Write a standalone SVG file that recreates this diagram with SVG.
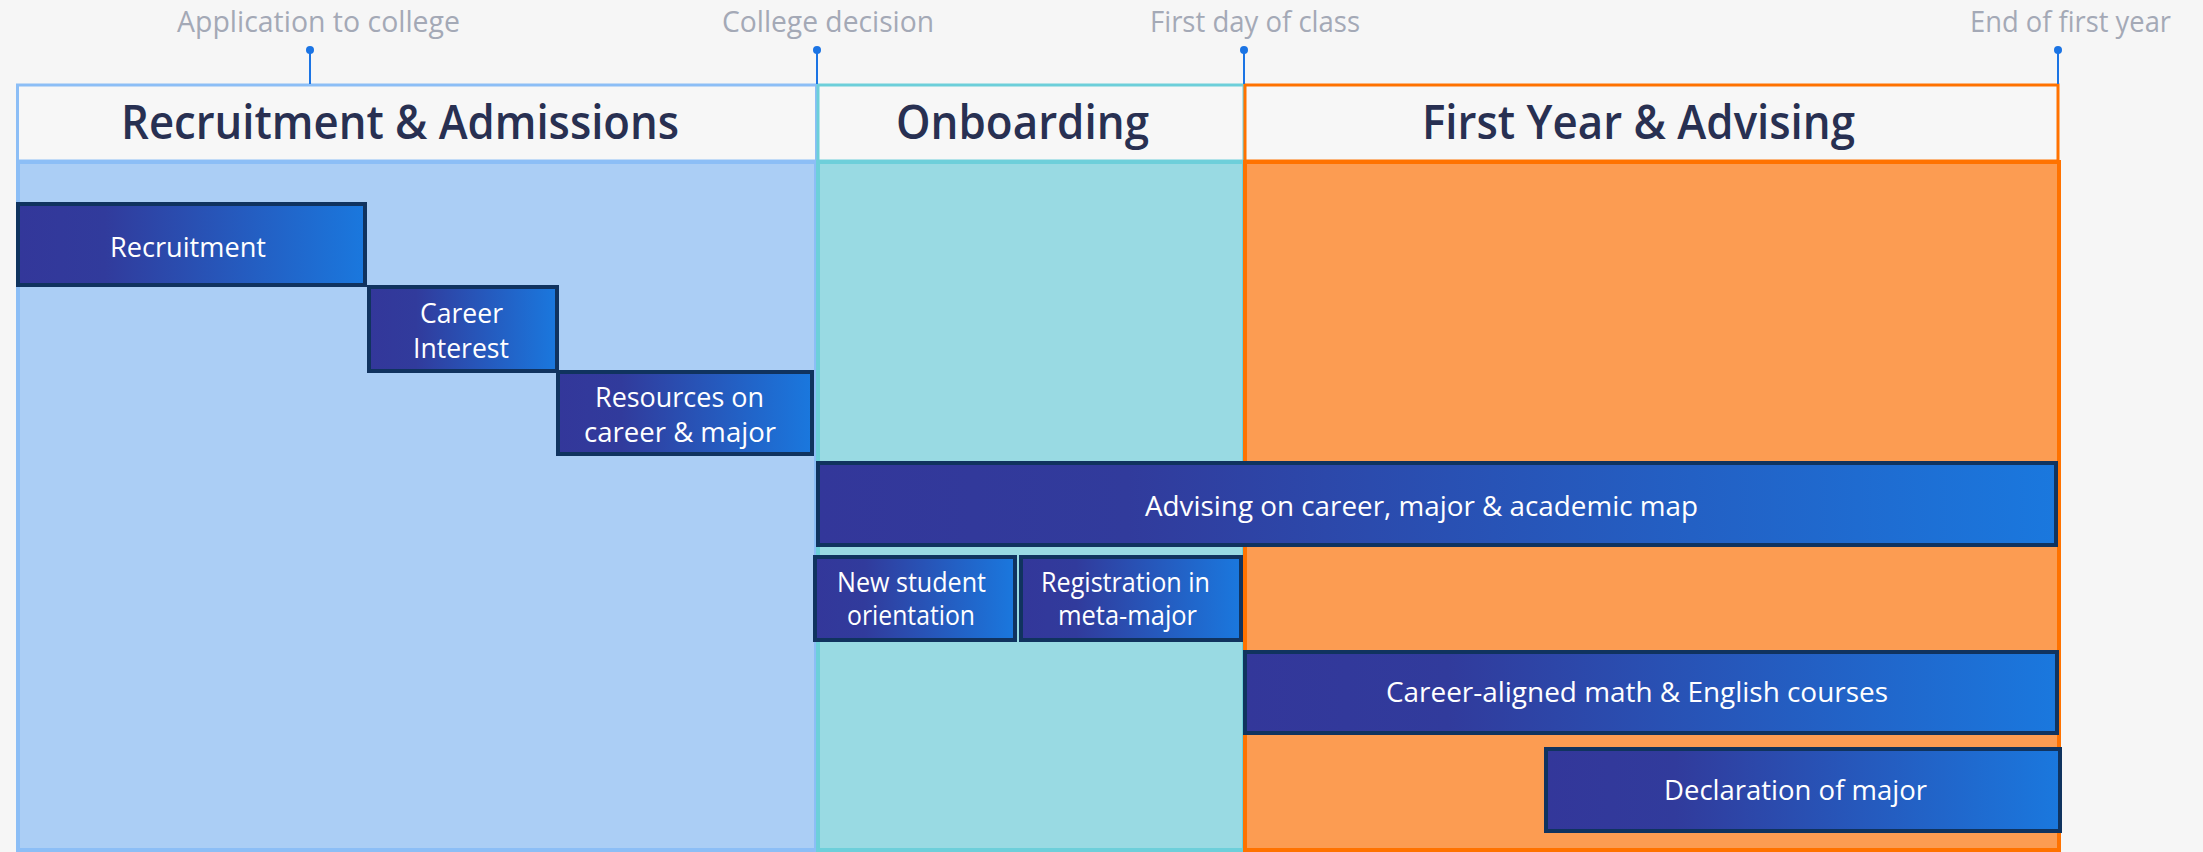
<svg xmlns="http://www.w3.org/2000/svg" width="2203" height="852" viewBox="0 0 2203 852">
  <defs>
    <!-- horizontal indigo-to-blue fill shared by every activity bar -->
    <linearGradient id="barFill" x1="0" y1="0" x2="1" y2="0">
      <stop offset="0" stop-color="#33379a"/>
      <stop offset="0.25" stop-color="#313b9c"/>
      <stop offset="1" stop-color="#1a78de"/>
    </linearGradient>
    <style>
      .bg { fill: #f6f6f6; }
      .milestone-label { font-family: "Open Sans", "Noto Sans", sans-serif; font-size: 29px; fill: #a4a9b6; }
      .tick { stroke: #1b74e4; stroke-width: 2; }
      .dot { fill: #1b74e4; }
      .phase-head { fill: #f7f7f7; stroke-width: 3; }
      .phase-body { stroke-width: 4; }
      .phase-title { font-family: "Open Sans", "Noto Sans", sans-serif; font-size: 47px; font-weight: 600; fill: #283052; }
      .blue { stroke: #8cbef6; }
      .blue.phase-body { fill: #abcef5; }
      .teal { stroke: #6dcfda; }
      .teal.phase-body { fill: #99dae3; }
      .orange { stroke: #ff7200; }
      .orange.phase-body { fill: #fc9c52; }
      .bar rect { fill: url(#barFill); stroke: #10335f; stroke-width: 4; }
      .bar text { font-family: "Open Sans", "Noto Sans", sans-serif; font-size: 27px; fill: #ffffff; }
      .bar text.tight { font-size: 26.5px; }
    </style>
  </defs>

  <rect class="bg" x="0" y="0" width="2203" height="852"/>

  <!-- phase columns: header strip + shaded body -->
  <g id="phase-recruitment">
    <rect class="phase-head blue" x="17.5" y="85" width="799" height="76"/>
    <rect class="phase-body blue" x="18" y="162" width="798" height="688"/>
    <text class="phase-title" x="121" y="139" textLength="558" lengthAdjust="spacingAndGlyphs">Recruitment &amp; Admissions</text>
  </g>
  <g id="phase-onboarding">
    <rect class="phase-head teal" x="818" y="85" width="426" height="76"/>
    <rect class="phase-body teal" x="818" y="162" width="426" height="688"/>
    <text class="phase-title" x="896" y="139" textLength="253" lengthAdjust="spacingAndGlyphs">Onboarding</text>
  </g>
  <g id="phase-first-year">
    <rect class="phase-head orange" x="1245" y="85" width="813" height="76"/>
    <rect class="phase-body orange" x="1245" y="162" width="814" height="688"/>
    <text class="phase-title" x="1422" y="139" textLength="433" lengthAdjust="spacingAndGlyphs">First Year &amp; Advising</text>
  </g>

  <!-- milestone markers along the top edge -->
  <g id="milestones">
    <line class="tick" x1="310" y1="50" x2="310" y2="84"/>
    <circle class="dot" cx="310" cy="50" r="4"/>
    <line class="tick" x1="817" y1="50" x2="817" y2="84"/>
    <circle class="dot" cx="817" cy="50" r="4"/>
    <line class="tick" x1="1244" y1="50" x2="1244" y2="84"/>
    <circle class="dot" cx="1244" cy="50" r="4"/>
    <line class="tick" x1="2058" y1="50" x2="2058" y2="84"/>
    <circle class="dot" cx="2058" cy="50" r="4"/>
    <text class="milestone-label" x="177" y="32" textLength="283" lengthAdjust="spacingAndGlyphs">Application to college</text>
    <text class="milestone-label" x="722" y="32" textLength="212" lengthAdjust="spacingAndGlyphs">College decision</text>
    <text class="milestone-label" x="1150" y="32" textLength="210" lengthAdjust="spacingAndGlyphs">First day of class</text>
    <text class="milestone-label" x="1970" y="32" textLength="201" lengthAdjust="spacingAndGlyphs">End of first year</text>
  </g>

  <!-- activity bars -->
  <g id="bar-recruitment" class="bar">
    <rect x="18" y="204" width="347" height="81"/>
    <text x="110" y="257" textLength="156" lengthAdjust="spacingAndGlyphs">Recruitment</text>
  </g>
  <g id="bar-career-interest" class="bar">
    <rect x="369" y="287" width="188" height="84"/>
    <text x="420" y="323" textLength="83" lengthAdjust="spacingAndGlyphs">Career</text>
    <text x="413" y="358" textLength="96" lengthAdjust="spacingAndGlyphs">Interest</text>
  </g>
  <g id="bar-resources" class="bar">
    <rect x="558" y="372" width="254" height="82"/>
    <text x="595" y="407" textLength="169" lengthAdjust="spacingAndGlyphs">Resources on</text>
    <text x="584" y="442" textLength="192" lengthAdjust="spacingAndGlyphs">career &amp; major</text>
  </g>
  <g id="bar-advising" class="bar">
    <rect x="818" y="463" width="1238" height="82"/>
    <text x="1145" y="516" textLength="553" lengthAdjust="spacingAndGlyphs">Advising on career, major &amp; academic map</text>
  </g>
  <g id="bar-orientation" class="bar">
    <rect x="815" y="557" width="200" height="83"/>
    <text class="tight" x="837" y="591.5" textLength="149" lengthAdjust="spacingAndGlyphs">New student</text>
    <text class="tight" x="847" y="624.5" textLength="128" lengthAdjust="spacingAndGlyphs">orientation</text>
  </g>
  <g id="bar-registration" class="bar">
    <rect x="1021" y="557" width="220" height="83"/>
    <text class="tight" x="1041" y="591.5" textLength="169" lengthAdjust="spacingAndGlyphs">Registration in</text>
    <text class="tight" x="1058" y="624.5" textLength="139" lengthAdjust="spacingAndGlyphs">meta-major</text>
  </g>
  <g id="bar-gateway-courses" class="bar">
    <rect x="1245" y="652" width="812" height="81"/>
    <text x="1386" y="702" textLength="502" lengthAdjust="spacingAndGlyphs">Career-aligned math &amp; English courses</text>
  </g>
  <g id="bar-declaration" class="bar">
    <rect x="1546" y="749" width="514" height="82"/>
    <text x="1664" y="800" textLength="263" lengthAdjust="spacingAndGlyphs">Declaration of major</text>
  </g>
</svg>
